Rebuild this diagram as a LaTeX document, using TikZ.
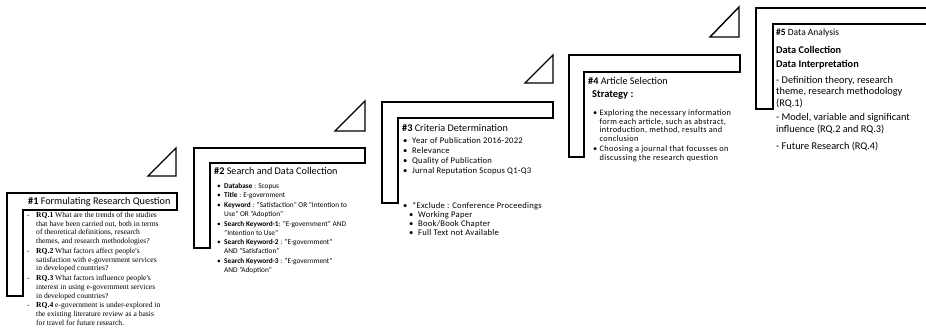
\documentclass[tikz,border=0pt]{standalone}
\usepackage{fontspec}
\setmainfont{Carlito}
\newfontfamily\rqfont{Liberation Serif}
\usetikzlibrary{positioning}

% list helpers
\newcommand{\dsh}{\makebox[9pt][l]{-}}
\newcommand{\blt}[1][7pt]{\makebox[#1][l]{\textbullet}}
\newcommand{\ind}[1]{\hspace*{#1}}
\newcommand{\wider}[1]{\addfontfeature{LetterSpace=#1}}

\begin{document}
\begin{tikzpicture}[x=1pt, y=-1pt,
    stairs/.style={draw=black, line width=1.8pt, line join=miter, fill=white},
    wedge/.style={draw=black, line width=1.4pt, line join=miter, fill=white},
    heading/.style={anchor=west, inner sep=0pt, font=\fontsize{10.2}{12}\selectfont},
    body/.style={anchor=north west, align=left, inner sep=0pt}]
    \useasboundingbox (0,0) rectangle (926,328);

    % step outlines
    \draw[stairs] (7,193) -- (177,193) -- (177,210) -- (23,210) -- (23,296) -- (7,296) -- cycle;
    \draw[stairs] (194,148) -- (365,148) -- (365,163) -- (210,163) -- (210,248) -- (194,248) -- cycle;
    \draw[stairs] (382,102) -- (553,102) -- (553,118) -- (398,118) -- (398,203) -- (382,203) -- cycle;
    \draw[stairs] (569,55) -- (740,55) -- (740,72) -- (584,72) -- (584,157) -- (569,157) -- cycle;
    \draw[stairs] (927,8) -- (756,8) -- (756,109) -- (773,109) -- (773,24) -- (927,24);

    % little triangles between the steps
    \draw[wedge] (148,176) -- (176,176) -- (176,148) -- cycle;
    \draw[wedge] (335,131) -- (365,131) -- (365,101) -- cycle;
    \draw[wedge] (525,83) -- (553,83) -- (553,55) -- cycle;
    \draw[wedge] (710,37) -- (739,37) -- (739,7) -- cycle;

    % step 1: research questions
    \node[heading] (headA) at (28,202) {\textbf{\#1} Formulating Research Question};
    \node[body, font=\rqfont\fontsize{7.6}{8.7}\selectfont] (listA) at (27,211.8) {%
      \dsh\textbf{RQ.1} What are the trends of the studies\\
      \ind{9pt}that have been carried out, both in terms\\
      \ind{9pt}of theoretical definitions, research\\
      \ind{9pt}themes, and research methodologies?\\[1.2pt]
      \dsh\textbf{RQ.2} What factors affect people's\\
      \ind{9pt}satisfaction with e-government services\\
      \ind{9pt}in developed countries?\\[1.2pt]
      \dsh\textbf{RQ.3} What factors influence people's\\
      \ind{9pt}interest in using e-government services\\
      \ind{9pt}in developed countries?\\[1.2pt]
      \dsh\textbf{RQ.4} e-government is under-explored in\\
      \ind{9pt}the existing literature review as a basis\\
      \ind{9pt}for travel for future research.};

    % step 2: search
    \node[heading] (headB) at (214,171) {\textbf{\#2} Search and Data Collection};
    \node[body, font=\fontsize{7.3}{8.8}\selectfont] (listB) at (217,182.8) {%
      \blt\textbf{Database} : Scopus\\[1pt]
      \blt\textbf{Title} : E-government\\[1pt]
      \blt\textbf{Keyword} : "Satisfaction" OR "Intention to\\
      \ind{7pt}Use" OR "Adoption"\\[1pt]
      \blt\textbf{Search Keyword-1}: "E-government" AND\\
      \ind{7pt}"Intention to Use"\\[1pt]
      \blt\textbf{Search Keyword-2} : "E-government"\\
      \ind{7pt}AND "Satisfaction"\\[1pt]
      \blt\textbf{Search Keyword-3} : "E-government"\\
      \ind{7pt}AND "Adoption"};

    % step 3: criteria
    \node[heading] (headC) at (402,128) {\textbf{\#3} Criteria Determination};
    \node[body, font=\fontsize{8.6}{10}\selectfont\wider{3}] (listC) at (403,137) {%
      \blt[9pt]Year of Publication 2016-2022\\
      \blt[9pt]Relevance\\
      \blt[9pt]Quality of Publication\\
      \blt[9pt]Jurnal Reputation Scopus Q1-Q3};
    \node[body, font=\fontsize{8.6}{9}\selectfont\wider{3}] (listD) at (403,202.2) {%
      \blt[9pt]*Exclude : Conference Proceedings\\
      \ind{6pt}\blt[9pt]Working Paper\\
      \ind{6pt}\blt[9pt]Book/Book Chapter\\
      \ind{6pt}\blt[9pt]Full Text not Available};

    % step 4: selection
    \node[heading] (headD) at (588,81) {\textbf{\#4} Article Selection};
    \node[body, font=\bfseries\fontsize{10.5}{12}\selectfont] (stratD) at (592,90.3) {Strategy :};
    \node[body, font=\fontsize{8.3}{8.8}\selectfont\wider{4}] (listE) at (593,109.3) {%
      \blt[6.5pt]Exploring the necessary information\\
      \ind{6.5pt}form each article, such as abstract,\\
      \ind{6.5pt}introduction, method, results and\\
      \ind{6.5pt}conclusion\\[1pt]
      \blt[6.5pt]Choosing a journal that focusses on\\
      \ind{6.5pt}discussing the research question};

    % step 5: analysis
    \node[body, font=\fontsize{9.5}{11.5}\selectfont] (headE) at (776,28.6) {\textbf{\#5} Data Analysis};
    \node[body, font=\bfseries\fontsize{10.3}{11.5}\selectfont] (collE) at (776,45.6) {Data Collection};
    \node[body, font=\bfseries\fontsize{10.3}{11.5}\selectfont] (interE) at (776,60) {Data Interpretation};
    \node[body, font=\fontsize{10.3}{11.5}\selectfont] (defE) at (776,76) {%
      - Definition theory, research\\theme, research methodology\\(RQ.1)};
    \node[body, font=\fontsize{10.3}{11.5}\selectfont] (modE) at (776,113.4) {%
      - Model, variable and significant\\influence (RQ.2 and RQ.3)};
    \node[body, font=\fontsize{10.3}{11.5}\selectfont] (futE) at (776,141.4) {%
      - Future Research (RQ.4)};
\end{tikzpicture}
\end{document}
